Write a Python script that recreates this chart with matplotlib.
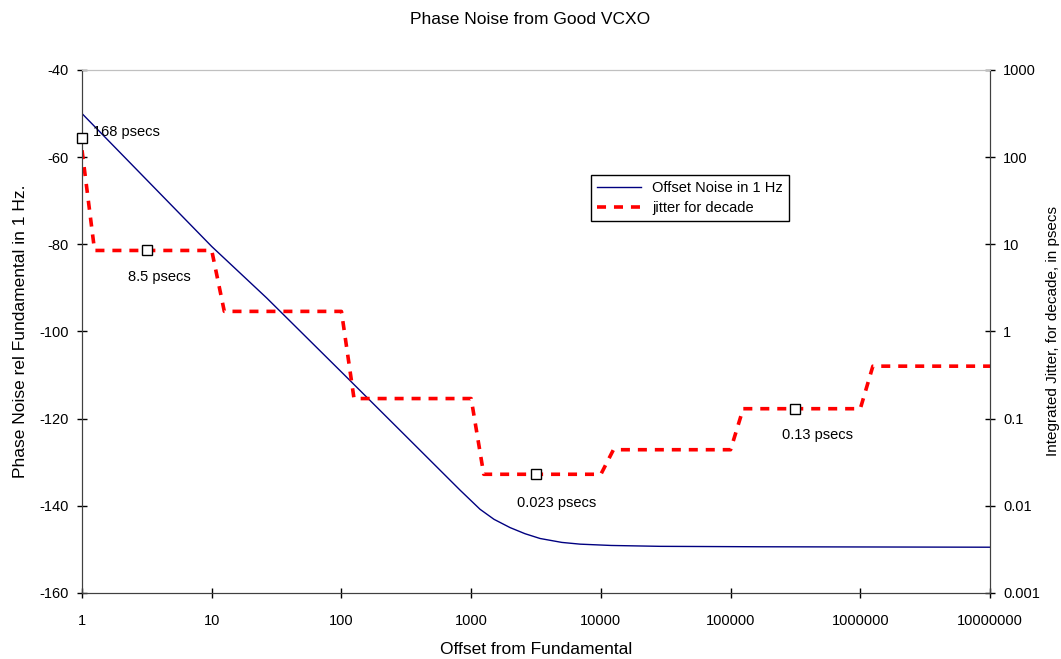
import matplotlib
matplotlib.use("Agg")
import matplotlib.pyplot as plt
from matplotlib.ticker import FixedLocator, FixedFormatter, NullLocator

plt.rcParams['font.family'] = ['Liberation Sans', 'DejaVu Sans']

# phase noise curve (dBc/Hz)
noise_f = [1, 10, 26.5, 100, 316, 821, 1171, 1500, 1995, 2600, 3398, 5000, 6918,
           12000, 28600, 170000, 1e7]
noise_db = [-50, -80.5, -92.3, -109.3, -124.1, -136.4, -140.8, -143.1, -145.0,
            -146.4, -147.5, -148.4, -148.8, -149.1, -149.3, -149.4, -149.5]

# jitter per decade, drawn as steps (psecs)
jit_f = [1, 1.25, 10, 12.5, 100, 125, 1000, 1250, 10000, 12500,
         1e5, 1.25e5, 1e6, 1.25e6, 1e7]
jit_ps = [120, 8.5, 8.5, 1.7, 1.7, 0.17, 0.17, 0.023, 0.023, 0.044,
          0.044, 0.13, 0.13, 0.40, 0.40]

# labelled points
mark_f = [1, 3.16, 3162, 316228]
mark_ps = [168, 8.5, 0.023, 0.13]
mark_txt = ["168 psecs", "8.5 psecs", "0.023 psecs", "0.13 psecs"]

x_ticks = [1, 10, 100, 1000, 10000, 100000, 1000000, 10000000]
left_ticks = [-160, -140, -120, -100, -80, -60, -40]
right_ticks = [0.001, 0.01, 0.1, 1, 10, 100, 1000]

fig = plt.figure(figsize=(10.61, 6.59), dpi=100)
ax = fig.add_axes([0.0773, 0.1002, 0.8558, 0.7936])
ax2 = ax.twinx()

ax.plot(noise_f, noise_db, color="#000080", lw=1.0, label="Offset Noise in 1 Hz")
ax.set_xscale("log")
ax.set_xlim(1, 1e7)
ax.set_ylim(-160, -40)

ax2.plot(jit_f, jit_ps, color="#ff0000", lw=2.6, ls=(0, (2.5, 2.2)),
         dash_capstyle="butt", label="jitter for decade")
ax2.plot(mark_f, mark_ps, ls="none", marker="s", ms=6.5, mfc="white",
         mec="black", mew=1.0, clip_on=False, zorder=5)
ax2.set_yscale("log")
ax2.set_ylim(0.001, 1000)

# data labels
ax2.annotate(mark_txt[0], (mark_f[0], mark_ps[0]), xytext=(8, 4),
             textcoords="offset points", ha="left", va="center", fontsize=10.5)
offs = [None, (9, -19), (15, -21), (16, -19)]
for i in range(1, 4):
    ax2.annotate(mark_txt[i], (mark_f[i], mark_ps[i]), xytext=offs[i],
                 textcoords="offset points", ha="center", va="center", fontsize=10.5)

# ticks
ax.xaxis.set_major_locator(FixedLocator(x_ticks))
ax.xaxis.set_major_formatter(FixedFormatter([str(v) for v in x_ticks]))
ax.xaxis.set_minor_locator(NullLocator())
ax.yaxis.set_major_locator(FixedLocator(left_ticks))
ax.yaxis.set_major_formatter(FixedFormatter([str(v) for v in left_ticks]))
ax2.yaxis.set_major_locator(FixedLocator(right_ticks))
ax2.yaxis.set_major_formatter(FixedFormatter(["0.001", "0.01", "0.1", "1", "10", "100", "1000"]))
ax2.yaxis.set_minor_locator(NullLocator())

for a in (ax, ax2):
    a.tick_params(direction="inout", length=7, width=1, labelsize=10.5, colors="black")
    for s in a.spines.values():
        s.set_color("#404040")
    a.spines["top"].set_color("#c0c0c0")
ax.tick_params(axis="x", pad=12)
ax.tick_params(axis="y", pad=6)
ax2.tick_params(axis="y", pad=6)

ax.set_xlabel("Offset from Fundamental", fontsize=12.5, labelpad=10)
ax.set_ylabel("Phase Noise rel Fundamental in 1 Hz.", fontsize=12.5)
ax.yaxis.set_label_coords(-0.06, 0.5)
ax2.set_ylabel("Integrated Jitter, for decade, in psecs", fontsize=11)
ax2.yaxis.set_label_coords(1.062, 0.5)
fig.suptitle("Phase Noise from Good VCXO", fontsize=12.5, y=0.982)

h1, l1 = ax.get_legend_handles_labels()
h2, l2 = ax2.get_legend_handles_labels()
leg = ax2.legend(h1 + h2, l1 + l2, loc="upper left", bbox_to_anchor=(0.5606, 0.7992),
                 borderaxespad=0, fancybox=False, edgecolor="black", framealpha=1,
                 fontsize=10.5, handlelength=3.0, labelspacing=0.4)
leg.get_frame().set_linewidth(1.0)

fig.savefig("out.png", dpi=100)
